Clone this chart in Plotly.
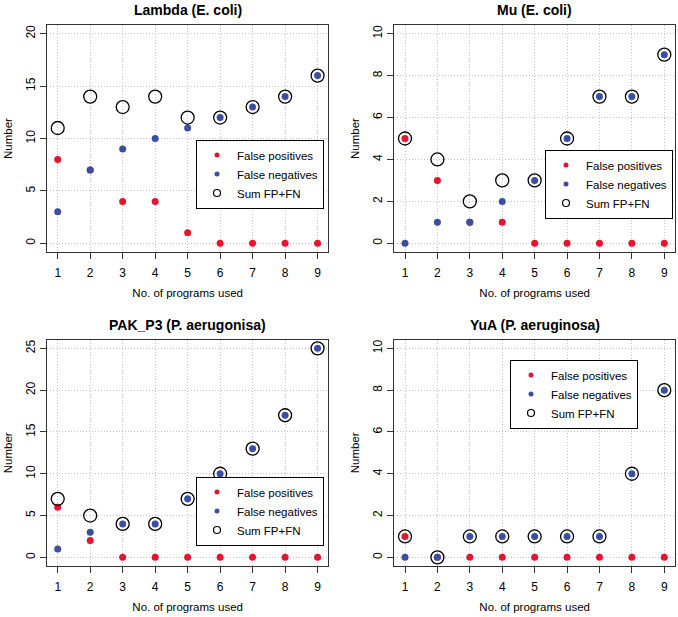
import plotly.graph_objects as go

programs = [1, 2, 3, 4, 5, 6, 7, 8, 9]

titles = ["Lambda (E. coli)", "Mu (E. coli)", "PAK_P3 (P. aerugonisa)", "YuA (P. aeruginosa)"]

lambda_fp = [8, 7, 4, 4, 1, 0, 0, 0, 0]
lambda_fn = [3, 7, 9, 10, 11, 12, 13, 14, 16]
lambda_sum = [11, 14, 13, 14, 12, 12, 13, 14, 16]

mu_fp = [5, 3, 1, 1, 0, 0, 0, 0, 0]
mu_fn = [0, 1, 1, 2, 3, 5, 7, 7, 9]
mu_sum = [5, 4, 2, 3, 3, 5, 7, 7, 9]

pak_fp = [6, 2, 0, 0, 0, 0, 0, 0, 0]
pak_fn = [1, 3, 4, 4, 7, 10, 13, 17, 25]
pak_sum = [7, 5, 4, 4, 7, 10, 13, 17, 25]

yua_fp = [1, 0, 0, 0, 0, 0, 0, 0, 0]
yua_fn = [0, 0, 1, 1, 1, 1, 1, 4, 8]
yua_sum = [1, 0, 1, 1, 1, 1, 1, 4, 8]

y_max = [20, 10, 25, 10]
y_dtick = [5, 2, 5, 2]

panels = [
    (lambda_fp, lambda_fn, lambda_sum),
    (mu_fp, mu_fn, mu_sum),
    (pak_fp, pak_fn, pak_sum),
    (yua_fp, yua_fn, yua_sum),
]

W, H = 678, 617


def px(x):
    return x / W


def py(y):
    return 1 - y / H


# plot boxes in window pixels: (left, right, top, bottom)
boxes = [
    (47, 328.3, 25.3, 251.7),
    (394.3, 675, 25.3, 251.7),
    (47, 328.3, 340, 565.7),
    (394.3, 675, 340, 565.7),
]
# legend (left x, centre y) in window pixels
legend_pos = [(196, 174), (545, 184), (196, 511), (510, 394)]

RED = "#E8132F"
BLUE = "#3B4EA3"
FONT = "Liberation Sans, Arial, sans-serif"

fig = go.Figure()
layout = dict(
    width=W, height=H,
    margin=dict(l=0, r=0, t=0, b=0),
    paper_bgcolor="white", plot_bgcolor="white",
    font=dict(family=FONT, color="black", size=12),
    showlegend=True,
    annotations=[],
)

for i, (fp, fn, sm) in enumerate(panels):
    k = "" if i == 0 else str(i + 1)
    xa, ya = "x" + k, "y" + k
    lg = "legend" + k
    fig.add_trace(go.Scatter(x=programs, y=fp, mode="markers", name="False positives",
                             marker=dict(color=RED, size=7, symbol="circle"),
                             xaxis=xa, yaxis=ya, showlegend=False))
    fig.add_trace(go.Scatter(x=programs, y=fn, mode="markers", name="False negatives",
                             marker=dict(color=BLUE, size=7, symbol="circle"),
                             xaxis=xa, yaxis=ya, showlegend=False))
    fig.add_trace(go.Scatter(x=programs, y=sm, mode="markers", name="Sum FP+FN",
                             marker=dict(color="black", size=13, symbol="circle-open",
                                         line=dict(color="black", width=1.3)),
                             xaxis=xa, yaxis=ya, showlegend=False))
    # legend keys (small symbols, as in the original legend)
    for name, mk in [
        ("False positives", dict(color=RED, size=5, symbol="circle")),
        ("False negatives", dict(color=BLUE, size=5, symbol="circle")),
        ("Sum FP+FN", dict(color="black", size=7, symbol="circle-open", line=dict(width=1.2))),
    ]:
        fig.add_trace(go.Scatter(x=[None], y=[None], mode="markers", name=name, marker=mk,
                                 xaxis=xa, yaxis=ya, legend=lg, showlegend=True))

    l, r, t, b = boxes[i]
    dx = [px(l), px(r)]
    dy = [py(b), py(t)]
    ymax = y_max[i]
    pad = 0.04 * ymax
    axis_common = dict(
        showline=True, mirror=True, linecolor="#333333", linewidth=1.2,
        ticks="outside", ticklen=6, tickcolor="#333333", tickwidth=1,
        showgrid=True, gridcolor="#c4c4c4", griddash="1px,2px", gridwidth=1,
        zeroline=False, tickfont=dict(family=FONT, size=12, color="black"),
    )
    layout["xaxis" + k] = dict(
        axis_common, domain=dx, range=[0.67, 9.33], tickmode="array", tickvals=programs,
        anchor=ya, ticklabelstandoff=4,
        title=dict(text="No. of programs used", font=dict(family=FONT, size=11.5), standoff=9),
    )
    layout["yaxis" + k] = dict(
        axis_common, domain=dy, range=[-pad, ymax + pad], tick0=0, dtick=y_dtick[i],
        tickangle=-90, anchor=xa,
        title=dict(text="Number", font=dict(family=FONT, size=11.5), standoff=9),
    )
    lx, ly = legend_pos[i]
    layout[lg] = dict(
        x=px(lx), y=py(ly), xanchor="left", yanchor="middle",
        bgcolor="white", bordercolor="black", borderwidth=1,
        font=dict(family=FONT, size=11.5, color="black"),
        itemwidth=30, tracegroupgap=0, itemsizing="trace",
    )
    layout["annotations"].append(dict(
        text="<b>" + titles[i] + "</b>", x=px((l + r) / 2), y=py(t - 15),
        xref="paper", yref="paper", xanchor="center", yanchor="middle",
        showarrow=False, font=dict(family=FONT, size=14, color="black"),
    ))

fig.update_layout(**layout)
fig.write_html(
    "out.html",
    config={"displayModeBar": False},
    post_script="document.body.style.margin='0';document.body.style.overflow='hidden';",
)
